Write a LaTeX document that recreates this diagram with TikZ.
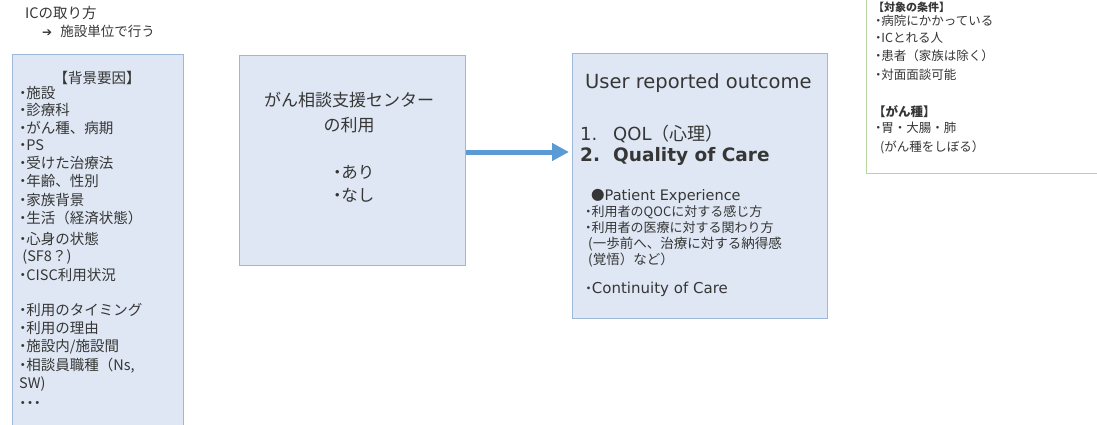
\documentclass[tikz,border=0pt]{standalone}
\usepackage{fontspec}
\setmainfont{Noto Sans CJK JP}
\newfontfamily\latfont{DejaVu Sans}
\usetikzlibrary{arrows.meta}
\definecolor{boxfill}{HTML}{DEE7F3}
\definecolor{boxline}{HTML}{9DB7D8}
\definecolor{arrowblue}{HTML}{5B9BD5}
\definecolor{greenline}{HTML}{B5D5A0}
\definecolor{txt}{HTML}{363636}
\newcommand\bt{\makebox[0.5em][c]{・}}
\newcommand\fs[1]{\fontsize{#1}{#1}\selectfont}
\begin{document}
\begin{tikzpicture}[x=1pt,y=-1pt,
  bluebox/.style={draw=boxline, fill=boxfill, line width=1.3pt, anchor=north west, inner sep=0},
  greenbox/.style={draw=greenline, fill=white, line width=1.3pt, anchor=north west, inner sep=0},
  ln/.style={anchor=west, inner sep=0, text=txt, text height=0.88em, text depth=0.12em},
  cl/.style={anchor=center, inner sep=0, text=txt, text height=0.88em, text depth=0.12em},
  flow/.style={draw=arrowblue, line width=5pt, -{Triangle[length=17pt,width=17pt]}, shorten >=3pt},
]
\useasboundingbox (0,0) rectangle (1097,425);

% boxes
\node[bluebox, minimum width=171pt, minimum height=385pt] (bg) at (12,54) {};
\node[bluebox, minimum width=226pt, minimum height=210pt] (mid) at (239,55) {};
\node[bluebox, minimum width=255pt, minimum height=265pt] (out) at (572,53) {};
\node[greenbox, minimum width=250pt, minimum height=195pt] (cond) at (866,-22) {};

% arrow
\coordinate (ay) at (0,152);
\draw[flow] (mid.east |- ay) -- (out.west |- ay);

% top left
\node[ln, font=\fs{14.5}] (ic1) at (25,15) {ICの取り方};
\node[ln, font=\fs{13.5}] (ic2) at (42,33) {{\latfont\fs{12}➔}\hspace{8pt}施設単位で行う};

% left box
\node[cl, font=\fs{14.5}] (bgh) at (97,80) {【背景要因】};
\foreach \t/\y [count=\i] in {
  {\bt 施設}/95, {\bt 診療科}/112, {\bt がん種、病期}/130, {\bt PS}/147,
  {\bt 受けた治療法}/165, {\bt 年齢、性別}/183, {\bt 家族背景}/202,
  {\bt 生活（経済状態）}/220, {\bt 心身の状態}/241, {\ (SF8？)}/258,
  {\bt CISC利用状況}/277, {\bt 利用のタイミング}/312, {\bt 利用の理由}/330,
  {\bt 施設内/施設間}/348, {\bt 相談員職種（Ns,}/367, {SW)}/385, {\bt\bt\bt}/405}
  \node[ln, font=\fs{14.5}] (bl\i) at (19,\y) {\t};

% middle box
\node[cl, font=\fs{17}] (m1) at (349,103) {がん相談支援センター};
\node[cl, font=\fs{17}] (m2) at (349,128) {の利用};
\node[ln, font=\fs{16.5}] (m3) at (333,175) {\bt あり};
\node[ln, font=\fs{16.5}] (m4) at (333,198) {\bt なし};

% right box
\node[ln, font=\latfont\fs{19.5}] (o1) at (585,85) {User reported outcome};
\node[ln, font=\fs{18}] (o2) at (580,137) {\makebox[33pt][l]{\latfont 1.}{\latfont QOL}（心理）};
\node[ln, font=\latfont\bfseries\fs{18.5}] (o3) at (580,158) {\makebox[33pt][l]{2.}Quality of Care};
\node[ln, font=\fs{13.5}] (o4) at (591,197) {●{\latfont\fs{14.5}Patient Experience}};
\node[ln, font=\fs{13}] (o5) at (585,213) {\bt 利用者のQOCに対する感じ方};
\node[ln, font=\fs{13}] (o6) at (585,229) {\bt 利用者の医療に対する関わり方};
\node[ln, font=\fs{13.5}] (o7) at (588,245) {(一歩前へ、治療に対する納得感};
\node[ln, font=\fs{13.5}] (o8) at (588,261) {(覚悟）など）};
\node[ln, font=\fs{13.5}] (o9) at (585,290) {\bt{\latfont\fs{15}Continuity of Care}};

% top right
\node[ln, font=\bfseries\fs{11}] (c0) at (873,8) {【対象の条件】};
\node[ln, font=\fs{12.5}] (c1) at (875,22) {\bt 病院にかかっている};
\node[ln, font=\fs{12.5}] (c2) at (875,39) {\bt ICとれる人};
\node[ln, font=\fs{12.5}] (c3) at (875,57) {\bt 患者（家族は除く）};
\node[ln, font=\fs{12.5}] (c4) at (875,76) {\bt 対面面談可能};
\node[ln, font=\bfseries\fs{12.5}] (c5) at (873,113) {【がん種】};
\node[ln, font=\fs{12.5}] (c6) at (875,129) {\bt 胃・大腸・肺};
\node[ln, font=\fs{12.5}] (c7) at (880,148) {(がん種をしぼる）};
\end{tikzpicture}
\end{document}
